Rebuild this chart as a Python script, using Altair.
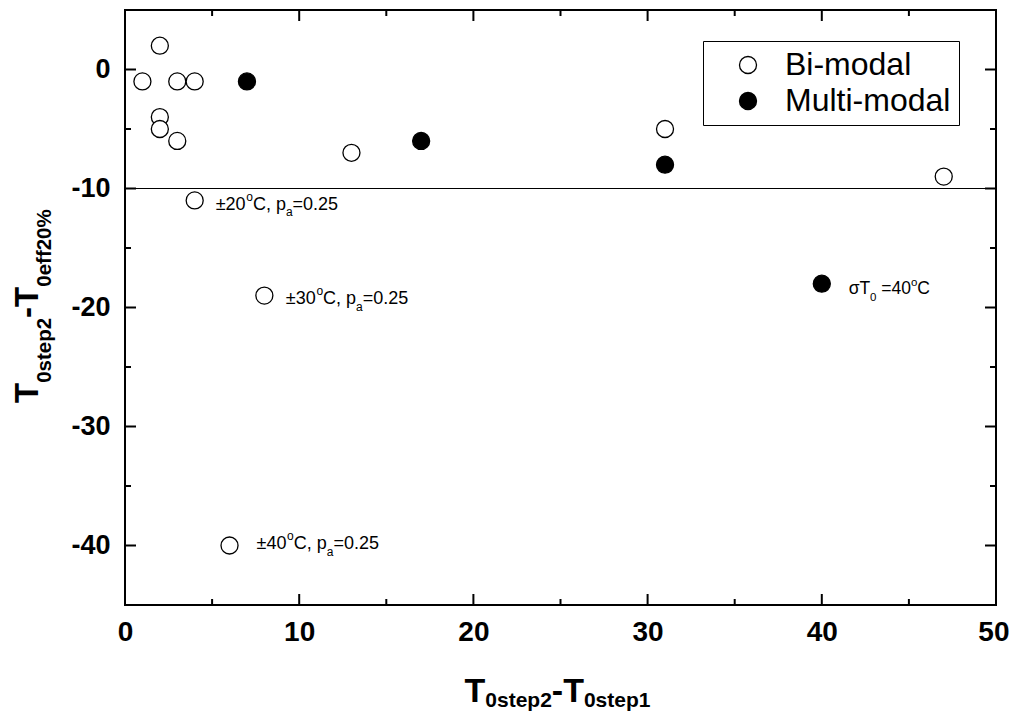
import altair as alt
import pandas as pd

# ---------------- data ----------------
series_names = ["Bi-modal", "Multi-modal"]
bi_x = [1, 2, 3, 4, 2, 2, 3, 13, 31, 47, 4, 8, 6]
bi_y = [-1, 2, -1, -1, -4, -5, -6, -7, -5, -9, -11, -19, -40]
multi_x = [7, 17, 31, 40]
multi_y = [-1, -6, -8, -18]

x_major = [0, 10, 20, 30, 40, 50]
x_minor = [5, 15, 25, 35, 45]
y_major = [-40, -30, -20, -10, 0]
y_minor = [-35, -25, -15, -5]
ref_line_y = [-10]

ann_x = [4, 8, 6, 40]
ann_y = [-11, -19, -40, -18]
ann_parts = [
    [("±20", "n"), ("o", "sup"), ("C, p", "n"), ("a", "sub"), ("=0.25", "n")],
    [("±30", "n"), ("o", "sup"), ("C, p", "n"), ("a", "sub"), ("=0.25", "n")],
    [("±40", "n"), ("o", "sup"), ("C, p", "n"), ("a", "sub"), ("=0.25", "n")],
    [("σT", "n"), ("0", "sub"), (" =40", "n"), ("o", "sup"), ("C", "n")],
]
x_title_parts = [("T", "n"), ("0step2", "sub"), ("-T", "n"), ("0step1", "sub")]
y_title_parts = [("T", "n"), ("0step2", "sub"), ("-T", "n"), ("0eff20%", "sub")]

# ---------------- layout / style ----------------
W, H = 871, 595
FONT = "Liberation Sans"
XDOM = [0, 50]
YDOM = [-45, 5]

REG = {'±': 584, 'C': 722, ',': 278, ' ': 278, 'p': 556, 'a': 556, '=': 584,
       '.': 278, 'o': 556, 'σ': 600, 'T': 611}
BOLD = {'T': 611, 's': 556, 't': 333, 'e': 556, 'p': 611, 'f': 333, '%': 889, '-': 333}


def text_width(s, size, bold=False):
    tbl = BOLD if bold else REG
    return sum((556 if ch.isdigit() else tbl.get(ch, 556)) for ch in s) * size / 1000.0


xs = alt.Scale(domain=XDOM, nice=False, zero=False)
ys = alt.Scale(domain=YDOM, nice=False, zero=False)
xaxis = alt.Axis(
    values=x_major, title=None, labelFontSize=28, labelPadding=13,
    labelFlush=False, labelExpr="'' + datum.value",
    labelAlign={"condition": {"test": "datum.value == 50", "value": "right"}, "value": "center"},
    labelOffset={"condition": {"test": "datum.value == 50", "value": 13}, "value": 0},
)
yaxis = alt.Axis(values=y_major, title=None, labelFontSize=27, labelPadding=15,
                 labelFlush=False, labelExpr="'' + datum.value")


def X(field):
    return alt.X(field, scale=xs, axis=xaxis)


def Y(field):
    return alt.Y(field, scale=ys, axis=yaxis)


layers = []

# reference line at y = -10
layers.append(
    alt.Chart(pd.DataFrame({"y": ref_line_y}))
    .mark_rule(color="black", strokeWidth=1)
    .encode(y=Y("y:Q"))
)

# points
pts = pd.DataFrame({
    "x": bi_x + multi_x,
    "y": bi_y + multi_y,
    "series": [series_names[0]] * len(bi_x) + [series_names[1]] * len(multi_x),
})
layers.append(
    alt.Chart(pts)
    .mark_point(filled=True, shape="circle", size=290, stroke="black",
                strokeWidth=1.3, opacity=1)
    .encode(
        x=X("x:Q"),
        y=Y("y:Q"),
        fill=alt.Fill(
            "series:N",
            scale=alt.Scale(domain=series_names, range=["white", "black"]),
            legend=alt.Legend(
                title=None, orient="none", legendX=578, legendY=31,
                strokeColor="black", padding=8, symbolOffset=21, labelOffset=21,
                labelFontSize=32, labelFont=FONT, labelColor="black",
                symbolSize=290, symbolStrokeColor="black", symbolStrokeWidth=1.3,
                symbolType="circle", rowPadding=4, labelLimit=400,
            ),
        ),
    )
)

# inward ticks on all four sides
def tick_layer(vals, side, length):
    df = pd.DataFrame({"v": vals})
    base = alt.Chart(df).mark_rule(color="black", strokeWidth=2)
    if side == "bottom":
        return base.encode(x=X("v:Q"), y=alt.value(H), y2=alt.value(H - length))
    if side == "top":
        return base.encode(x=X("v:Q"), y=alt.value(0), y2=alt.value(length))
    if side == "left":
        return base.encode(y=Y("v:Q"), x=alt.value(0), x2=alt.value(length))
    return base.encode(y=Y("v:Q"), x=alt.value(W), x2=alt.value(W - length))


for side in ["bottom", "top"]:
    layers.append(tick_layer(x_major, side, 11))
    layers.append(tick_layer(x_minor, side, 6))
for side in ["left", "right"]:
    layers.append(tick_layer(y_major, side, 11))
    layers.append(tick_layer(y_minor, side, 6))

# annotations (anchored at their data points)
ann_style = [
    # dx start, main dy, main size, small size, sup dy, sub dy
    (21, 9.4, 18, 12, -9, 6.5),
    (21.5, 8.7, 18, 12, -9, 6.5),
    (27, 3.9, 18, 12, -9, 6.5),
    (27, 10.7, 17.5, 11.5, -8, 6.5),
]
for i, parts in enumerate(ann_parts):
    dx0, dym, fs, fss, supdy, subdy = ann_style[i]
    cur = dx0
    for seg, role in parts:
        size = fs if role == "n" else fss
        lead = len(seg) - len(seg.lstrip(" "))
        cur += text_width(" " * lead, size)
        seg = seg.lstrip(" ")
        dy = dym + (0 if role == "n" else (supdy if role == "sup" else subdy))
        df = pd.DataFrame({"x": [ann_x[i]], "y": [ann_y[i]], "t": [seg]})
        layers.append(
            alt.Chart(df)
            .mark_text(align="left", baseline="alphabetic", font=FONT,
                       fontSize=size, color="black", dx=cur, dy=dy)
            .encode(x=X("x:Q"), y=Y("y:Q"), text="t:N")
        )
        cur += text_width(seg, size)

# x axis title with subscripts
XT_MAIN, XT_SUB, XT_SUBDY = 34, 21, 4.5
tot = sum(text_width(s, XT_MAIN if r == "n" else XT_SUB, True) for s, r in x_title_parts)
cur = 432.5 - tot / 2
for seg, role in x_title_parts:
    size = XT_MAIN if role == "n" else XT_SUB
    layers.append(
        alt.Chart(pd.DataFrame({"t": [seg]}))
        .mark_text(align="left", baseline="alphabetic", font=FONT, fontWeight="bold",
                   fontSize=size, color="black")
        .encode(x=alt.value(cur), y=alt.value(692 + (0 if role == "n" else XT_SUBDY)),
                text="t:N")
    )
    cur += text_width(seg, size, True)

# y axis title (rotated) with subscripts
YT_MAIN, YT_SUB, YT_SUBDY = 33, 20.5, 13
cur = 393
for seg, role in y_title_parts:
    size = YT_MAIN if role == "n" else YT_SUB
    layers.append(
        alt.Chart(pd.DataFrame({"t": [seg]}))
        .mark_text(align="left", baseline="alphabetic", font=FONT, fontWeight="bold",
                   fontSize=size, color="black", angle=270)
        .encode(x=alt.value(-87 + (0 if role == "n" else YT_SUBDY)), y=alt.value(cur),
                text="t:N")
    )
    cur -= text_width(seg, size, True)

chart = (
    alt.layer(*layers)
    .properties(width=W, height=H,
                padding={"left": 117, "top": 2, "right": 13, "bottom": 108},
                autosize=alt.AutoSizeParams(type="none"))
    .configure_view(stroke="black", strokeWidth=2)
    .configure_axis(labelFont=FONT, labelFontWeight="bold", labelColor="black",
                    domain=False, ticks=False, tickSize=0, grid=False)
    .configure_legend(symbolStrokeColor="black")
)

chart.save("out.html", embed_options={"renderer": "svg", "actions": False})
